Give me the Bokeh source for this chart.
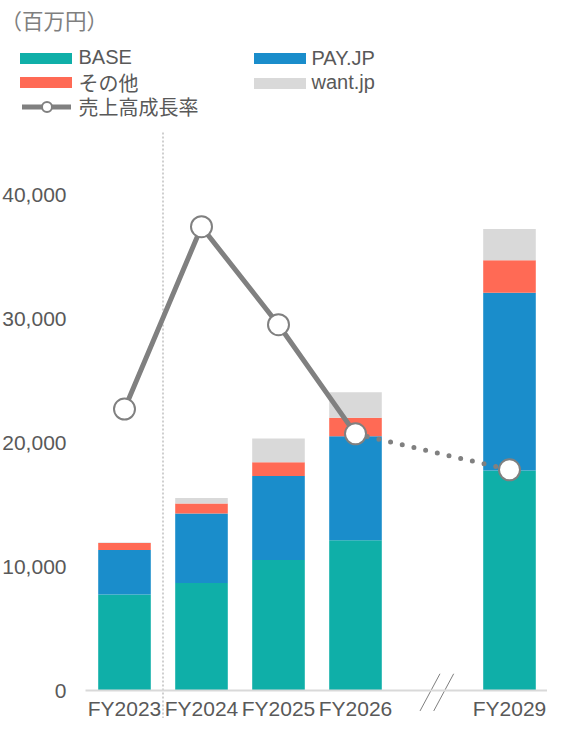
from bokeh.plotting import figure
from bokeh.models import (ColumnDataSource, Range1d, FixedTicker, NumeralTickFormatter,
                          Legend, LegendItem, Label)
from bokeh.embed import file_html
from bokeh.resources import INLINE
from bokeh.core.properties import value

# ---------------- data ----------------
slots = ["FY2023", "FY2024", "FY2025", "FY2026", "", "FY2029"]   # "" = axis break
years = ["FY2023", "FY2024", "FY2025", "FY2026", "FY2029"]
base = [7740, 8670, 10520, 12110, 17750]
payjp = [3600, 5610, 6780, 8400, 14320]
other = [560, 795, 1110, 1480, 2620]
wantjp = [30, 450, 1910, 2060, 2520]
growth = [22.7, 37.4, 29.5, 20.7, 17.8]          # 売上高成長率 (%) on hidden axis
y_ticks = [0, 10000, 20000, 30000, 40000]

series = ["base", "payjp", "other", "wantjp"]
series_labels = ["BASE", "PAY.JP", "その他", "want.jp"]
colors = ["#0FAFA8", "#1A8DCB", "#FF6A55", "#D9D9D9"]
rate_label = "売上高成長率"
unit_label = "（百万円）"

# ---------------- layout ----------------
FONT = "Liberation Sans, Noto Sans CJK JP"
TXT = "#595959"
W, H = 547, 718
AXIS_LEFT_PX = 85.0      # where the value axis sits
X0_PX = 124.0            # centre of first category
UNIT = 77.0              # px per category slot
ZERO_PX = 690.0          # y = 0
PX_PER = 124.0 / 10000   # px per value unit

x = [slots.index(y) for y in years]
src = ColumnDataSource(dict(x=x, base=base, payjp=payjp, other=other,
                            wantjp=wantjp, growth=growth))

x_range = Range1d(-X0_PX / UNIT, (W - X0_PX) / UNIT)
y_range = Range1d(-(H - ZERO_PX) / PX_PER, ZERO_PX / PX_PER)
axis_x = (AXIS_LEFT_PX - X0_PX) / UNIT

p = figure(width=W, height=H, x_range=x_range, y_range=y_range,
           output_backend="svg", toolbar_location=None,
           min_border_left=0, min_border_right=0,
           min_border_top=0, min_border_bottom=0)
p.title.visible = False
p.outline_line_color = None
p.background_fill_color = "white"
p.border_fill_color = "white"
p.xgrid.visible = False
p.ygrid.visible = False
p.extra_y_ranges = {"rate": Range1d(y_range.start / 1000, y_range.end / 1000)}

# y axis
ya = p.yaxis[0]
ya.fixed_location = axis_x
ya.ticker = FixedTicker(ticks=y_ticks)
ya.formatter = NumeralTickFormatter(format="0,0")
ya.axis_line_color = None
ya.major_tick_line_color = None
ya.minor_tick_line_color = None
ya.major_label_text_font = FONT
ya.major_label_text_font_size = "21px"
ya.major_label_text_color = TXT
ya.major_label_standoff = 13

# x axis
xa = p.xaxis[0]
xa.fixed_location = 0
xa.bounds = (axis_x, x_range.end)
xa.ticker = FixedTicker(ticks=x)
xa.major_label_overrides = {xi: name for xi, name in zip(x, years)}
xa.axis_line_color = "#D9D9D9"
xa.axis_line_width = 2
xa.major_tick_line_color = None
xa.minor_tick_line_color = None
xa.major_label_text_font = FONT
xa.major_label_text_font_size = "21px"
xa.major_label_text_color = TXT
xa.major_label_standoff = 0

# separator between actual and plan
sep_x = (x[0] + x[1]) / 2
p.segment(x0=[sep_x], y0=[y_range.start], x1=[sep_x], y1=[45000],
          line_color="#BFBFBF", line_width=1.5, line_dash="2 2")

# axis break marks
brk = slots.index("")
p.segment(x0=[brk - 0.162, brk + 0.016], y0=[-1650, -1650],
          x1=[brk + 0.097, brk + 0.275], y1=[1350, 1350],
          line_color="#7F7F7F", line_width=1)

# stacked bars
bars = p.vbar_stack(series, x="x", width=0.683, fill_color=colors,
                    line_color=None, source=src)

# growth line
solid = p.line(x[:4], growth[:4], y_range_name="rate", line_width=5,
               line_color="#808080", line_cap="round")
dotted = p.line(x[3:], growth[3:], y_range_name="rate", line_width=5,
                line_color="#808080", line_dash="0 12", line_cap="round")
marks = p.scatter("x", "growth", source=src, y_range_name="rate", size=21,
                  fill_color="white", line_color="#808080", line_width=2)


def add_legend(label, renderers, loc, gw, gh, standoff):
    lg = Legend(items=[LegendItem(label=value(label), renderers=renderers)],
                location=loc, glyph_width=gw, glyph_height=gh,
                label_height=28, spacing=0, padding=0, margin=0,
                label_standoff=standoff, border_line_color=None,
                background_fill_alpha=0, label_text_font=FONT,
                label_text_font_size="20px", label_text_color=TXT)
    p.add_layout(lg)


add_legend(series_labels[0], [bars[0]], (12.5, 646.5), 65, 14, 1)
add_legend(series_labels[2], [bars[2]], (12.5, 621.5), 65, 14, 1)
add_legend(series_labels[1], [bars[1]], (246.5, 646), 65, 14, 0)
add_legend(series_labels[3], [bars[3]], (246.5, 621.5), 65, 14, 0)
add_legend(rate_label, [solid, marks], (21.5, 597.3), 49, 25, 8)

p.add_layout(Label(x=0, y=H - 21.5, x_units="screen", y_units="screen",
                   text=unit_label, text_font=FONT, text_font_size="21.5px",
                   text_color="#7F7F7F", text_baseline="middle"))

open("out.html", "w").write(file_html(p, INLINE))
